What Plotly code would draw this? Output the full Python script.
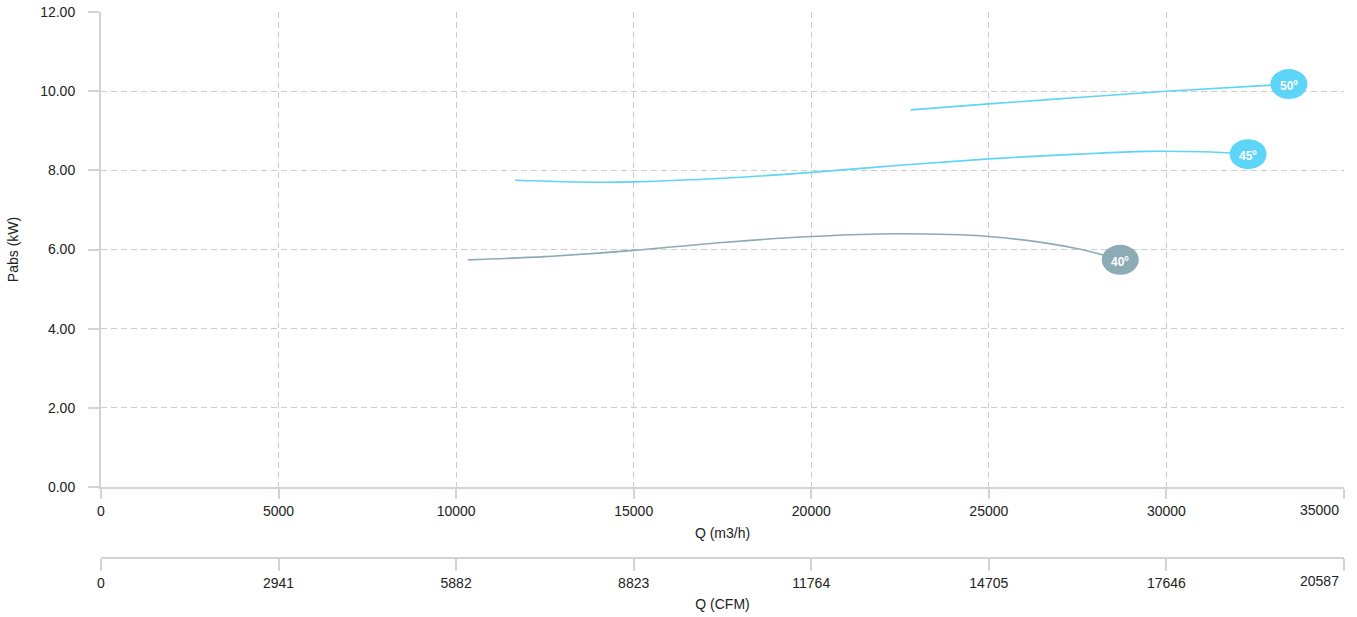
import plotly.graph_objects as go

# ---- data ----
q_40 = [10330, 12500, 15000, 17500, 20000, 22400, 25000, 27400, 28700]
p_40 = [5.74, 5.82, 5.98, 6.18, 6.33, 6.40, 6.33, 6.04, 5.74]

q_45 = [11660, 14000, 15000, 17500, 20000, 22500, 25000, 27500, 29400, 31000, 32300]
p_45 = [7.75, 7.70, 7.71, 7.80, 7.95, 8.13, 8.29, 8.41, 8.48, 8.47, 8.41]

q_50 = [22800, 25000, 27500, 30000, 33450]
p_50 = [9.53, 9.68, 9.84, 10.0, 10.18]

series_names = ["40º", "45º", "50º"]
series_colors = ["#8dabb5", "#5cd5f8", "#5cd5f8"]

x_ticks_m3h = [0, 5000, 10000, 15000, 20000, 25000, 30000, 35000]
x_ticks_cfm = [0, 2941, 5882, 8823, 11764, 14705, 17646, 20587]
y_ticks = [0, 2, 4, 6, 8, 10, 12]
y_tick_text = ["0.00", "2.00", "4.00", "6.00", "8.00", "10.00", "12.00"]

FONT = "Liberation Sans, Arial, Helvetica, sans-serif"
TXT = "#222222"
GRID = "#cccccc"
AXL = "#d3d3d3"


def tick_labels(vals):
    labels = [str(v) for v in vals]
    labels[-1] = ""  # last label is drawn right-aligned inside the plot edge
    return labels


fig = go.Figure()

shapes = []
annotations = []
for name, color, qs, ps in zip(series_names, series_colors, [q_40, q_45, q_50], [p_40, p_45, p_50]):
    fig.add_trace(go.Scatter(x=qs, y=ps, mode="lines", name=name,
                             line=dict(color=color, width=1.6, shape="spline", smoothing=1.0),
                             hoverinfo="skip", showlegend=False))
    shapes.append(dict(type="circle", xref="x", yref="y",
                       xsizemode="pixel", ysizemode="pixel",
                       xanchor=qs[-1], yanchor=ps[-1],
                       x0=-18.5, x1=18.5, y0=-15, y1=15,
                       fillcolor=color, line=dict(width=0), layer="above"))
    annotations.append(dict(x=qs[-1], y=ps[-1], xref="x", yref="y", text="<b>" + name + "</b>",
                            showarrow=False, yshift=-2,
                            font=dict(family=FONT, size=12, color="white")))

# right-aligned last tick labels
annotations.append(dict(x=x_ticks_m3h[-1], y=0, xref="x", yref="y", text=str(x_ticks_m3h[-1]),
                        showarrow=False, xanchor="right", yanchor="middle", xshift=-3, yshift=-23,
                        font=dict(family=FONT, size=14, color=TXT)))
annotations.append(dict(x=x_ticks_cfm[-1], y=0, xref="x2", yref="paper", text=str(x_ticks_cfm[-1]),
                        showarrow=False, xanchor="right", yanchor="middle", xshift=-3, yshift=-23,
                        font=dict(family=FONT, size=14, color=TXT)))

# dummy trace to attach the CFM axis
fig.add_trace(go.Scatter(x=[0], y=[0], xaxis="x2", yaxis="y", mode="markers",
                         marker=dict(opacity=0), hoverinfo="skip", showlegend=False))

fig.update_layout(
    width=1357, height=617,
    margin=dict(l=101, r=13, t=12, b=59),
    paper_bgcolor="white", plot_bgcolor="white",
    font=dict(family=FONT, size=14, color=TXT),
    shapes=shapes, annotations=annotations,
    xaxis=dict(range=[0, 35000.5], tickvals=x_ticks_m3h, ticktext=tick_labels(x_ticks_m3h),
               automargin=False,
               showgrid=True, gridcolor=GRID, griddash="6px,4px", gridwidth=1,
               showline=True, linecolor=AXL, linewidth=2, zeroline=False,
               ticks="outside", ticklen=10, tickcolor=AXL, tickwidth=1.5,
               anchor="y",
               title=dict(text="Q (m3/h)", standoff=10, font=dict(size=14, color=TXT))),
    xaxis2=dict(range=[0, 35000.5 / 1.7], tickvals=x_ticks_cfm, ticktext=tick_labels(x_ticks_cfm),
                automargin=False,
                overlaying="x", anchor="free", position=0, side="bottom",
                showgrid=False, showline=True, linecolor=AXL, linewidth=2, zeroline=False,
                ticks="outside", ticklen=12, tickcolor=AXL, tickwidth=1.5,
                title=dict(text="Q (CFM)", standoff=8, font=dict(size=14, color=TXT))),
    yaxis=dict(range=[0, 12.002], domain=[0.13, 1], tickvals=y_ticks, ticktext=y_tick_text,
               automargin=False, ticklabeloverflow="allow",
               showgrid=True, gridcolor=GRID, griddash="6px,4px", gridwidth=1,
               showline=True, linecolor=AXL, linewidth=2, zeroline=False,
               ticks="outside", ticklen=11, tickcolor=AXL, tickwidth=1.5,
               ticklabelstandoff=10,
               title=dict(text="Pabs (kW)", standoff=18, font=dict(size=14, color=TXT))),
)

fig.write_html("out.html",
               config={"displayModeBar": False},
               post_script="document.body.style.margin='0';document.body.style.overflow='hidden';")
